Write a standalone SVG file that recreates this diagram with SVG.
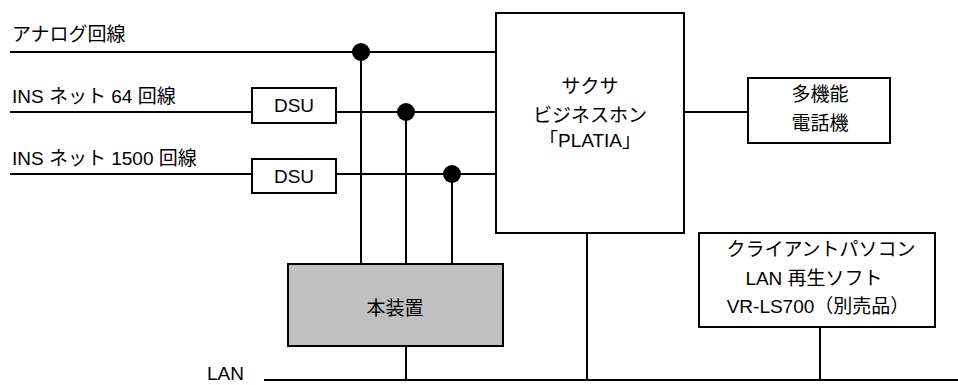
<svg xmlns="http://www.w3.org/2000/svg" width="958" height="385" viewBox="0 0 958 385">
<style>
text{font-family:"Liberation Sans","Noto Sans CJK JP",sans-serif;font-size:19px;fill:#000}
.c{text-anchor:middle}
.box{fill:#fff;stroke:#000;stroke-width:2}
.ln{stroke:#000;stroke-width:2;fill:none}
.dot{fill:#000}
</style>
<rect width="958" height="385" fill="#fff"/>
<g id="labels">
<text x="12" y="41">アナログ回線</text>
<text x="12" y="103">INS ネット 64 回線</text>
<text x="12" y="165">INS ネット 1500 回線</text>
<text x="207" y="380">LAN</text>
</g>
<g id="connectors">
<path class="ln" d="M10 52H496"/>
<path class="ln" d="M10 112H252M336 112H496"/>
<path class="ln" d="M10 174H252M336 174H496"/>
<path class="ln" d="M361 52V264M406 112V264M452 174V264"/>
<path class="ln" d="M684 112H748"/>
<path class="ln" d="M264 380H958"/>
<path class="ln" d="M406 346V380M587 233V380M820 327V380"/>
<circle class="dot" cx="361" cy="52" r="9"/>
<circle class="dot" cx="406" cy="112" r="9"/>
<circle class="dot" cx="452" cy="174" r="9"/>
</g>
<g id="dsu1"><rect class="box" x="252" y="88" width="84" height="35"/><text class="c" x="294" y="112">DSU</text></g>
<g id="dsu2"><rect class="box" x="252" y="159" width="84" height="34"/><text class="c" x="294" y="183">DSU</text></g>
<g id="platia"><rect class="box" x="496" y="13" width="188" height="220"/>
<text class="c" x="590" y="93">サクサ</text>
<text class="c" x="590" y="122">ビジネスホン</text>
<text class="c" x="590" y="147">「PLATIA」</text></g>
<g id="phone"><rect class="box" x="748" y="78" width="142" height="65"/>
<text class="c" x="820" y="101">多機能</text>
<text class="c" x="820" y="130">電話機</text></g>
<g id="device"><rect class="box" x="288" y="264" width="215" height="82" style="fill:#c0c0c0"/>
<text class="c" x="395" y="315">本装置</text></g>
<g id="client"><rect class="box" x="699" y="233" width="236" height="94"/>
<text class="c" x="821" y="256">クライアントパソコン</text>
<text class="c" x="814" y="285">LAN 再生ソフト</text>
<text class="c" x="818" y="313">VR-LS700（別売品）</text></g>
</svg>
